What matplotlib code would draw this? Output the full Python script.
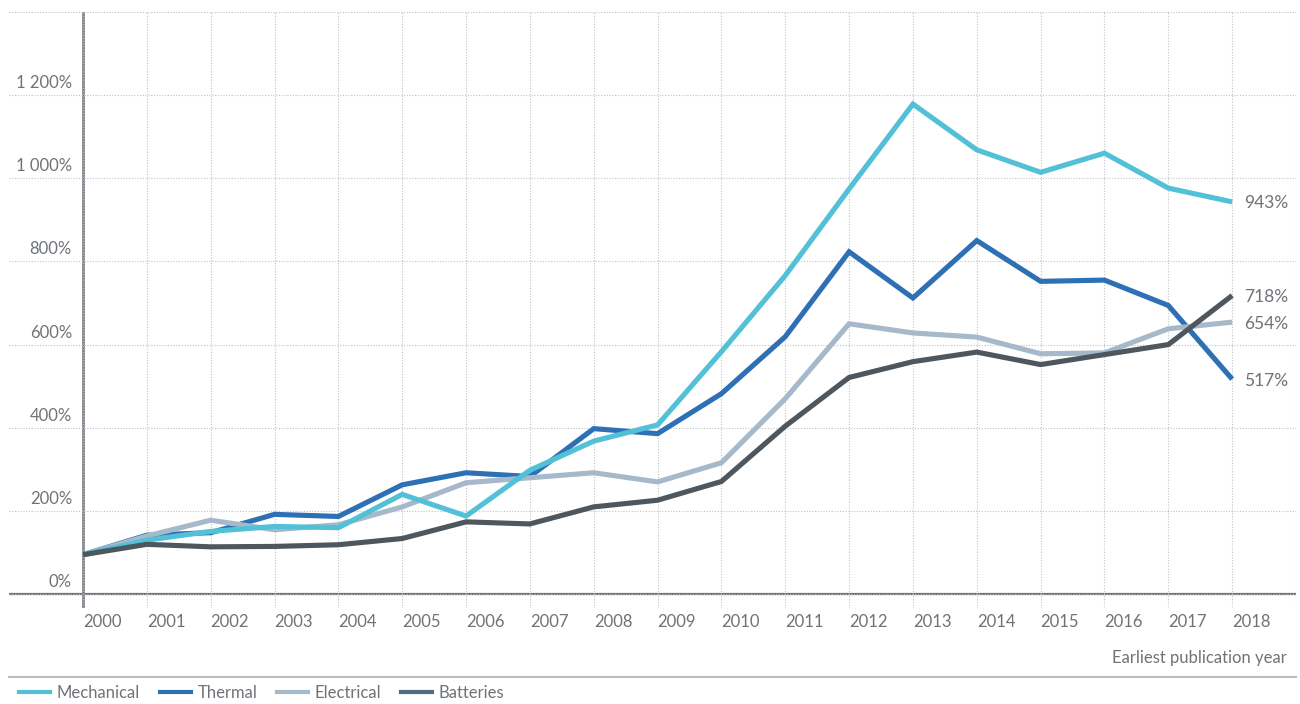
import matplotlib.pyplot as plt
from matplotlib.lines import Line2D

plt.rcParams['font.family'] = ['Lato', 'DejaVu Sans']

years = list(range(2000, 2019))
mechanical = [95, 130, 151, 163, 160, 240, 188, 298, 368, 407, 583, 766, 974, 1178, 1068, 1014, 1060, 976, 943]
thermal = [95, 142, 148, 192, 187, 263, 292, 283, 398, 386, 482, 619, 823, 712, 850, 752, 755, 694, 517]
electrical = [95, 140, 178, 155, 167, 210, 268, 280, 292, 270, 316, 470, 650, 628, 618, 578, 580, 638, 654]
batteries = [95, 120, 114, 115, 119, 134, 174, 169, 210, 226, 271, 404, 521, 559, 582, 552, 576, 600, 718]

names = ['Mechanical', 'Thermal', 'Electrical', 'Batteries']
series = [mechanical, thermal, electrical, batteries]
colors = ['#52c0d6', '#2d70b4', '#a6b9ca', '#4e565e']
legend_colors = ['#52c0d6', '#2d70b4', '#a6b9ca', '#506c82']
zorders = [4, 2, 3, 5]
end_labels = ['943%', '517%', '654%', '718%']

yticks = [0, 200, 400, 600, 800, 1000, 1200, 1400]
ytick_labels = ['0%', '200%', '400%', '600%', '800%', '1 000%', '1 200%', '']

txt = '#6e7378'
axis_col = '#6e7378'
grid_col = '#bfc3c8'

fig = plt.figure(figsize=(13, 7.04), dpi=100)
ax = fig.add_axes([9 / 1300, 1 - 608 / 704, (1296 - 9) / 1300, (608 - 11.7) / 704])
ax.set_xlim(2000 - 74 / 63.85, 2019)
ax.set_ylim(-33, 1400)

for s in ax.spines.values():
    s.set_visible(False)
ax.set_xticks(range(2000, 2020))
ax.set_yticks(yticks)
ax.tick_params(length=0, labelbottom=False, labelleft=False)
ax.grid(True, color=grid_col, linestyle=(0, (1, 1.5)), linewidth=0.8)
ax.axhline(0, color=axis_col, lw=1.6, zorder=1.5)
ax.axvline(2000, color=axis_col, lw=1.8, zorder=1.5)

for name, vals, c, z, lab in zip(names, series, colors, zorders, end_labels):
    ax.plot(years, vals, color=c, lw=3.7, zorder=z, solid_joinstyle='miter',
            solid_capstyle='butt')
    ax.annotate(lab, xy=(years[-1], vals[-1]), xytext=(12, 0), textcoords='offset pixels',
                ha='left', va='center_baseline', fontsize=12.5, color=txt,
                annotation_clip=False)

for v, lab in zip(yticks, ytick_labels):
    ax.annotate(lab, xy=(2000, v), xytext=(-11, 7), textcoords='offset pixels',
                ha='right', va='baseline', fontsize=12, color=txt, annotation_clip=False)

for y in years:
    ax.annotate(str(y), xy=(y, 0), xytext=(0, -33), textcoords='offset pixels',
                ha='left', va='baseline', fontsize=12, color=txt, annotation_clip=False)

fig.text(1287 / 1300, 1 - 663.3 / 704, 'Earliest publication year', ha='right',
         va='baseline', fontsize=12, color=txt)

fig.add_artist(Line2D([9 / 1300, 1296 / 1300], [1 - 677 / 704, 1 - 677 / 704],
                      color='#b8bcc0', lw=1.5, transform=fig.transFigure))

handles = [Line2D([], [], color=c, lw=3) for c in legend_colors]
fig.legend(handles, names, loc='center left', bbox_to_anchor=(19 / 1300, 1 - 693 / 704),
           ncol=4, frameon=False, fontsize=12, labelcolor=txt, handlelength=1.85,
           handletextpad=0.4, columnspacing=1.2, borderpad=0, borderaxespad=0)

fig.savefig('out.png', dpi=100)
